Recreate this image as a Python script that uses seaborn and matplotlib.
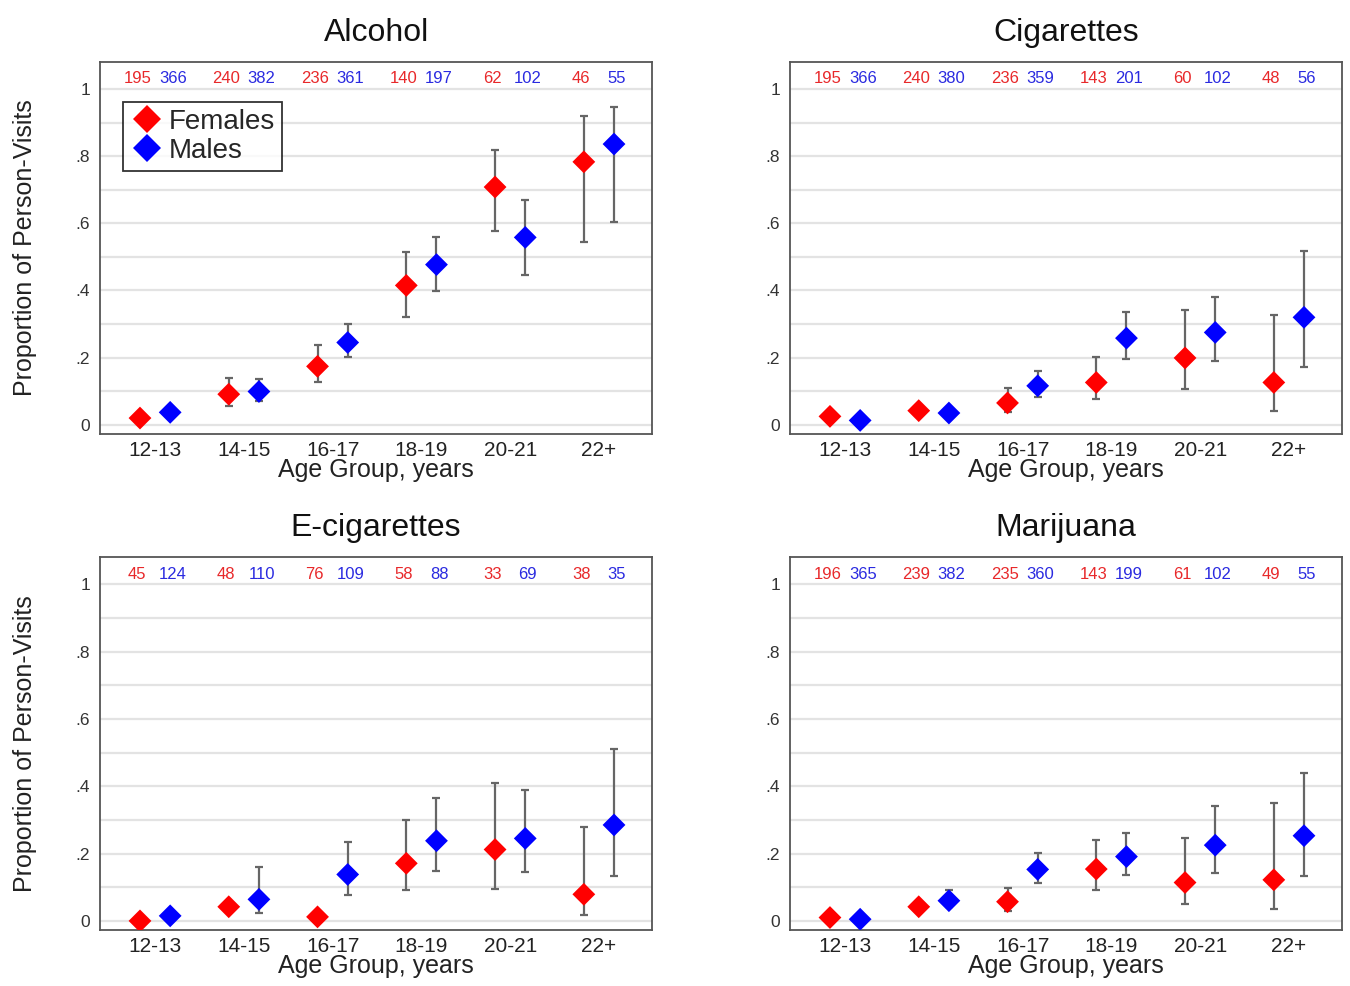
import numpy as np
import pandas as pd
import seaborn as sns
import matplotlib.pyplot as plt

# age groups, tick labels
age_groups = ['12-13', '14-15', '16-17', '18-19', '20-21', '22+']
ytick_vals = [0, 0.2, 0.4, 0.6, 0.8, 1.0]
ytick_labels = ['0', '.2', '.4', '.6', '.8', '1']
substances = ['Alcohol', 'Cigarettes', 'E-cigarettes', 'Marijuana']

# proportions (estimate) with CI low / high, per substance and sex
alc_f = [0.020, 0.091, 0.174, 0.415, 0.708, 0.783]
alc_f_lo = [0.012, 0.057, 0.126, 0.321, 0.576, 0.544]
alc_f_hi = [0.030, 0.139, 0.237, 0.515, 0.817, 0.919]
alc_m = [0.037, 0.099, 0.245, 0.477, 0.558, 0.836]
alc_m_lo = [0.028, 0.072, 0.202, 0.398, 0.445, 0.603]
alc_m_hi = [0.047, 0.137, 0.301, 0.558, 0.668, 0.946]

cig_f = [0.025, 0.042, 0.065, 0.126, 0.199, 0.126]
cig_f_lo = [0.016, 0.032, 0.037, 0.077, 0.106, 0.042]
cig_f_hi = [0.035, 0.053, 0.109, 0.202, 0.343, 0.328]
cig_m = [0.013, 0.035, 0.116, 0.258, 0.275, 0.320]
cig_m_lo = [0.007, 0.027, 0.082, 0.196, 0.189, 0.172]
cig_m_hi = [0.020, 0.045, 0.161, 0.335, 0.381, 0.518]

ecig_f = [0.000, 0.042, 0.012, 0.171, 0.212, 0.079]
ecig_f_lo = [0.000, 0.032, 0.004, 0.091, 0.094, 0.017]
ecig_f_hi = [0.000, 0.053, 0.022, 0.300, 0.409, 0.280]
ecig_m = [0.015, 0.064, 0.138, 0.238, 0.245, 0.285]
ecig_m_lo = [0.008, 0.023, 0.076, 0.147, 0.144, 0.134]
ecig_m_hi = [0.025, 0.161, 0.235, 0.364, 0.389, 0.511]

mj_f = [0.010, 0.042, 0.057, 0.154, 0.114, 0.122]
mj_f_lo = [0.004, 0.032, 0.030, 0.092, 0.050, 0.035]
mj_f_hi = [0.018, 0.053, 0.097, 0.241, 0.246, 0.350]
mj_m = [0.005, 0.060, 0.153, 0.191, 0.225, 0.253]
mj_m_lo = [0.001, 0.040, 0.114, 0.136, 0.141, 0.132]
mj_m_hi = [0.012, 0.092, 0.201, 0.261, 0.340, 0.438]

# number of person-visits shown on top
alc_nf = [195, 240, 236, 140, 62, 46]
alc_nm = [366, 382, 361, 197, 102, 55]
cig_nf = [195, 240, 236, 143, 60, 48]
cig_nm = [366, 380, 359, 201, 102, 56]
ecig_nf = [45, 48, 76, 58, 33, 38]
ecig_nm = [124, 110, 109, 88, 69, 35]
mj_nf = [196, 239, 235, 143, 61, 49]
mj_nm = [365, 382, 360, 199, 102, 55]

panels = [
    (alc_f, alc_f_lo, alc_f_hi, alc_m, alc_m_lo, alc_m_hi, alc_nf, alc_nm),
    (cig_f, cig_f_lo, cig_f_hi, cig_m, cig_m_lo, cig_m_hi, cig_nf, cig_nm),
    (ecig_f, ecig_f_lo, ecig_f_hi, ecig_m, ecig_m_lo, ecig_m_hi, ecig_nf, ecig_nm),
    (mj_f, mj_f_lo, mj_f_hi, mj_m, mj_m_lo, mj_m_hi, mj_nf, mj_nm),
]

sns.set_style('white')
plt.rcParams['font.family'] = ['Liberation Sans', 'DejaVu Sans']

colors = {'Females': '#ff0000', 'Males': '#0000ff'}
offset = 0.17

fig = plt.figure(figsize=(13.5, 9.86), dpi=100)
axes_pos = [
    [0.0741, 0.560, 0.409, 0.377],
    [0.5852, 0.560, 0.409, 0.377],
    [0.0741, 0.0568, 0.409, 0.378],
    [0.5852, 0.0568, 0.409, 0.378],
]

for i, (name, p) in enumerate(zip(substances, panels)):
    f, f_lo, f_hi, m, m_lo, m_hi, nf, nm = p
    ax = fig.add_axes(axes_pos[i])
    idx = np.arange(len(age_groups))

    df = pd.DataFrame({
        'x': np.concatenate([idx - offset, idx + offset]),
        'prop': f + m,
        'lo': f_lo + m_lo,
        'hi': f_hi + m_hi,
        'Sex': ['Females'] * len(f) + ['Males'] * len(m),
    })

    # grid lines every .1
    for g in np.arange(0, 1.01, 0.1):
        ax.axhline(g, color='#e3e3e3', lw=1.6, zorder=0)

    ax.errorbar(df['x'], df['prop'],
                yerr=[df['prop'] - df['lo'], df['hi'] - df['prop']],
                fmt='none', ecolor='#666666', elinewidth=1.6, capsize=3,
                capthick=1.6, zorder=2)

    sns.scatterplot(data=df, x='x', y='prop', hue='Sex', palette=colors,
                    marker='D', s=135, linewidth=0, ax=ax, zorder=3,
                    legend=(i == 0))

    for j in range(len(age_groups)):
        ax.text(j - 0.2, 1.03, str(nf[j]), color='#e8282a', fontsize=12,
                ha='center', va='center')
        ax.text(j + 0.2, 1.03, str(nm[j]), color='#2a2ae0', fontsize=12,
                ha='center', va='center')

    ax.set_xlim(-0.62, 5.6)
    ax.set_ylim(-0.027, 1.08)
    ax.set_xticks(idx)
    ax.set_xticklabels(age_groups, fontsize=15, color='#222222')
    ax.set_yticks(ytick_vals)
    ax.set_yticklabels(ytick_labels, fontsize=12.5, color='#333333')
    ax.tick_params(axis='x', length=3, color='#555555', pad=2)
    ax.tick_params(axis='y', length=4, color='#555555', pad=3)

    ax.set_title(name, fontsize=23, pad=15, color='#111111')
    ax.set_xlabel('Age Group, years', fontsize=18, color='#222222')
    ax.xaxis.set_label_coords(0.5, -0.065)
    if i % 2 == 0:
        ax.set_ylabel('Proportion of Person-Visits', fontsize=18, color='#222222')
        ax.yaxis.set_label_coords(-0.115, 0.5)
    else:
        ax.set_ylabel('')

    for s in ax.spines.values():
        s.set_color('#555555')
        s.set_linewidth(1.3)

    if i == 0:
        leg = ax.legend(loc='upper left', bbox_to_anchor=(0.042, 0.892),
                        fontsize=20, frameon=True, fancybox=False,
                        borderpad=0.25, handletextpad=0.2, labelspacing=0.1,
                        handlelength=1.2, borderaxespad=0)
        leg.get_frame().set_edgecolor('black')
        leg.get_frame().set_linewidth(1.3)
        for h in leg.legend_handles:
            h.set_markersize(14)

fig.savefig('out.png', dpi=100)
